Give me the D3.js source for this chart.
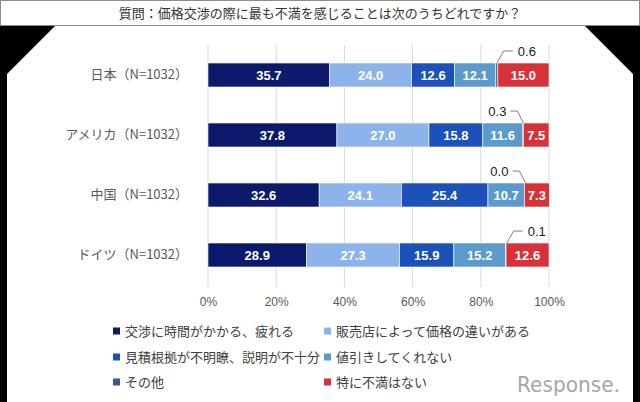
<!DOCTYPE html>
<html><head><meta charset="utf-8">
<script src="https://cdn.jsdelivr.net/npm/d3@7"></script>
<style>body{margin:0;background:#000;}svg{display:block;}</style>
</head><body>
<svg id="chart" width="640" height="402"></svg>
<script>
const titleText = "質問：価格交渉の際に最も不満を感じることは次のうちどれですか？";
const categories = ["日本（N=1032）", "アメリカ（N=1032）", "中国（N=1032）", "ドイツ（N=1032）"];
const seriesNames = ["交渉に時間がかかる、疲れる", "販売店によって価格の違いがある", "見積根拠が不明瞭、説明が不十分", "値引きしてくれない", "その他", "特に不満はない"];
const s1 = [35.7, 37.8, 32.6, 28.9];
const s2 = [24.0, 27.0, 24.1, 27.3];
const s3 = [12.6, 15.8, 25.4, 15.9];
const s4 = [12.1, 11.6, 10.7, 15.2];
const s5 = [0.6, 0.3, 0.0, 0.1];
const s6 = [15.0, 7.5, 7.3, 12.6];
const tickValues = [0, 20, 40, 60, 80, 100];
const colors = ["#0c1a6c", "#8db4ea", "#1b51b9", "#5b9bcb", "#3b5895", "#d83239"];
const calloutSide = [1, -1, -1, 1];

const seriesValues = [s1, s2, s3, s4, s5, s6];
const svg = d3.select("#chart");
const JP = "'Noto Sans CJK JP','Noto Sans',sans-serif";
const NUM = "'Liberation Sans',Arial,sans-serif";

// frame
svg.append("rect").attr("x",0).attr("y",0).attr("width",640).attr("height",402).attr("fill","#000");
svg.append("path").attr("d","M55,26 L585,26 L633,74 L633,402 L7,402 L7,74 Z").attr("fill","#fff");
svg.append("rect").attr("x",0.5).attr("y",0.5).attr("width",639).attr("height",25).attr("fill","#fff").attr("stroke","#8c8c8c");
svg.append("text").attr("x",320).attr("y",13).attr("dy","0.35em").attr("text-anchor","middle")
  .attr("font-family",JP).attr("font-size",13).attr("fill","#333").text(titleText);

const x = d3.scaleLinear().domain([0,100]).range([208,549]);
const y = d3.scaleBand().domain(categories).range([45,285]).paddingInner(0.6).paddingOuter(0.3);

// gridlines
svg.append("g").selectAll("line").data(tickValues).join("line")
  .attr("x1",d=>x(d)).attr("x2",d=>x(d)).attr("y1",45).attr("y2",287)
  .attr("stroke","#d9d9d9").attr("stroke-width",1);

// axis
const xAxis = d3.axisBottom(x).tickValues(tickValues).tickFormat(d=>d+"%").tickSize(0).tickPadding(0);
const ax = svg.append("g").attr("transform","translate(0,297)").call(xAxis);
ax.select(".domain").remove();
ax.selectAll("text").attr("font-family",NUM).attr("font-size",12).attr("fill","#595959");

// category labels
const yAxis = d3.axisLeft(y).tickSize(0).tickPadding(0);
const ay = svg.append("g").attr("transform","translate(188,0)").call(yAxis);
ay.select(".domain").remove();
ay.selectAll("text").attr("font-family",JP).attr("font-size",13).attr("fill","#595959");

// stacked data
const rows = categories.map((c,i)=>{const o={cat:c}; seriesNames.forEach((s,j)=>o[s]=seriesValues[j][i]); return o;});
const stack = d3.stack().keys(seriesNames)(rows);

const g = svg.append("g");
stack.forEach((layer,j)=>{
  g.append("g").selectAll("rect").data(layer).join("rect")
    .attr("x",d=>x(d[0])).attr("width",d=>Math.max(0,x(Math.min(d[1],100.1))-x(d[0])))
    .attr("y",d=>y(d.data.cat)).attr("height",y.bandwidth())
    .attr("fill",colors[j]).attr("stroke","#fff").attr("stroke-width",0.6);
  if (j !== 4) {
    g.append("g").selectAll("text").data(layer).join("text")
      .attr("x",d=>(x(d[0])+x(d[1]))/2).attr("y",d=>y(d.data.cat)+y.bandwidth()/2).attr("dy","0.36em")
      .attr("text-anchor","middle").attr("font-family",NUM).attr("font-size",13).attr("font-weight","bold")
      .attr("fill","#fff").text(d=>d3.format(".1f")(d[1]-d[0]));
  }
});

// callouts for その他
const other = stack[4];
other.forEach((d,i)=>{
  const xs = x(d[0]) + 1;
  const top = y(d.data.cat);
  const side = calloutSide[i];
  const ly = top - 12;
  let pts, tx, anchor;
  if (side > 0) { pts = [[xs,top],[xs+7,ly],[xs+16,ly]]; tx = xs+21; anchor="start"; }
  else { pts = [[xs,top],[xs-6,ly],[xs-13,ly]]; tx = xs-17; anchor="end"; }
  svg.append("path").attr("d",d3.line()(pts)).attr("fill","none").attr("stroke","#7f7f7f").attr("stroke-width",1);
  svg.append("text").attr("x",tx).attr("y",ly).attr("dy","0.36em").attr("text-anchor",anchor)
    .attr("font-family",NUM).attr("font-size",13).attr("fill","#1a1a1a").text(d3.format(".1f")(d[1]-d[0]));
});

// legend
const legendPos = [[113,331],[324,331],[113,357],[324,357],[113,382],[324,382]];
const lg = svg.append("g");
seriesNames.forEach((s,j)=>{
  const [lx,ly] = legendPos[j];
  lg.append("rect").attr("x",lx).attr("y",ly-3.5).attr("width",7).attr("height",7).attr("fill",colors[j]);
  lg.append("text").attr("x",lx+12).attr("y",ly).attr("dy","0.35em").attr("font-family",JP)
    .attr("font-size",13).attr("fill","#404040").text(s);
});

// watermark
svg.append("text").attr("x",517).attr("y",392).attr("font-family","'DejaVu Sans',sans-serif")
  .attr("font-size",22).attr("fill","#a6a6a6").attr("textLength",103).attr("lengthAdjust","spacingAndGlyphs").text("Response.");
</script>
</body></html>
